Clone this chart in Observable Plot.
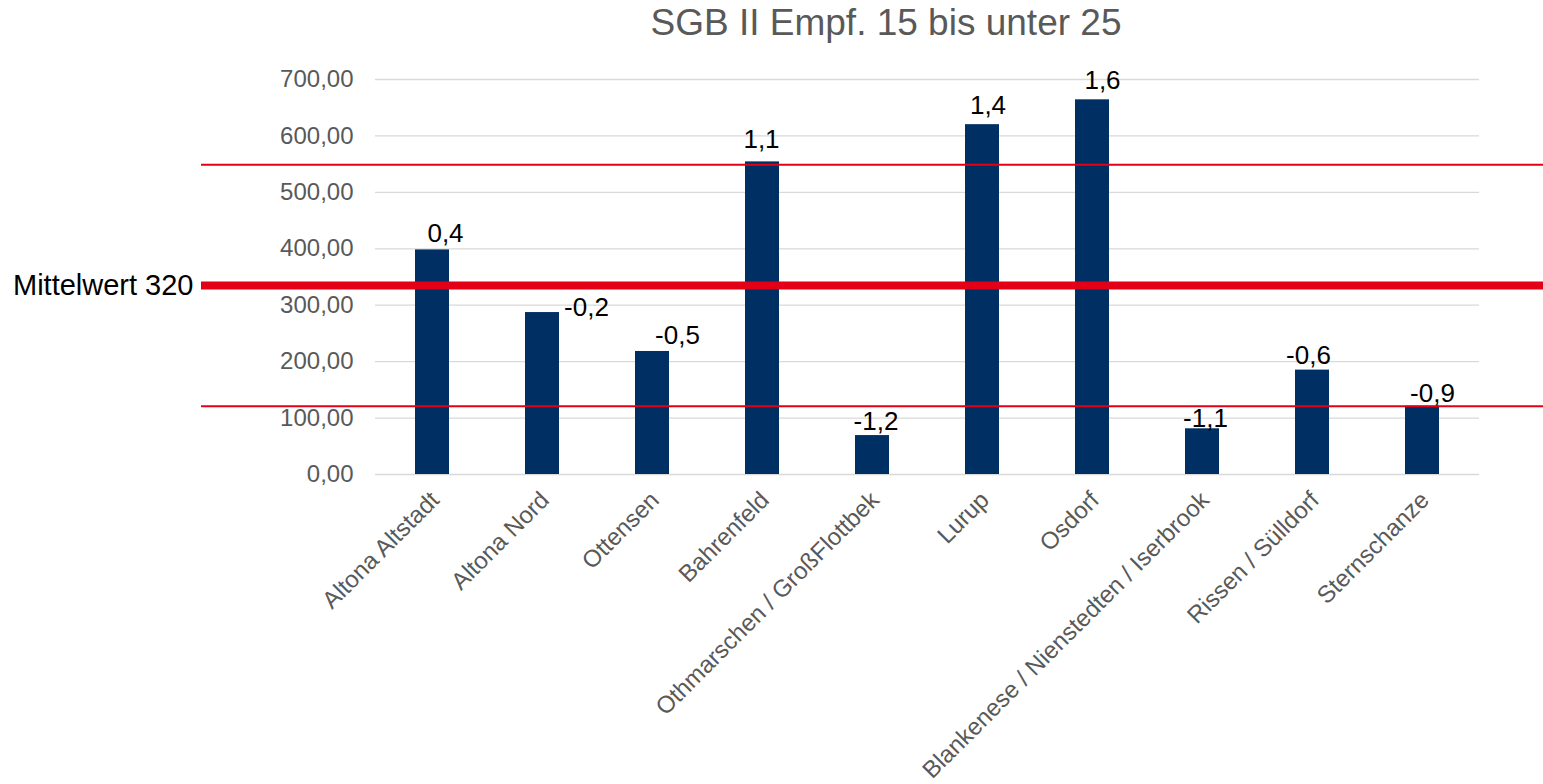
<!DOCTYPE html>
<html><head><meta charset="utf-8">
<script src="https://cdn.jsdelivr.net/npm/d3@7"></script>
<script src="https://cdn.jsdelivr.net/npm/@observablehq/plot@0.6"></script>
<style>
body{margin:0;background:#fff;font-family:"Liberation Sans",Arial,sans-serif;overflow:hidden}
#title{height:45px;line-height:45px;font-size:37px;color:#595959;text-align:center;padding-left:229px;width:1314px;white-space:nowrap}
</style></head><body>
<div id="title">SGB II Empf. 15 bis unter 25</div>
<div id="chart"></div>
<script>
const categories = ["Altona Altstadt", "Altona Nord", "Ottensen", "Bahrenfeld", "Othmarschen / GroßFlottbek", "Lurup", "Osdorf", "Blankenese / Nienstedten / Iserbrook", "Rissen / Sülldorf", "Sternschanze"];
const values = [398, 287, 218, 554, 69, 620, 664, 81, 185, 121];
const zScores = [0.4, -0.2, -0.5, 1.1, -1.2, 1.4, 1.6, -1.1, -0.6, -0.9];
const yTicks = [0, 100, 200, 300, 400, 500, 600, 700];
const meanLine = 335;
const meanLabel = "Mittelwert 320";
const bandLines = [549, 121];

const fmt2 = d => d.toFixed(2).replace(".", ",");
const fmt1 = d => d.toFixed(1).replace(".", ",");
const data = categories.map((c, i) => ({c, v: values[i], z: zScores[i]}));

// label nudges (dx, dy) relative to bar top centre
const nudge = {
  "Altona Altstadt": [13, -16.5],
  "Altona Nord": [44, -5],
  "Ottensen": [25, -16],
  "Bahrenfeld": [-1, -22],
  "Othmarschen / GroßFlottbek": [3.5, -13.5],
  "Lurup": [5.5, -19],
  "Osdorf": [10, -19.5],
  "Blankenese / Nienstedten / Iserbrook": [3, -10],
  "Rissen / Sülldorf": [-4, -14.7],
  "Sternschanze": [10, -12.5]
};

const red = "#e30016";
const chart = Plot.plot({
  width: 1543, height: 739,
  marginLeft: 375, marginRight: 64, marginTop: 34, marginBottom: 310,
  style: {fontFamily: '"Liberation Sans", Arial, sans-serif', fontSize: "24px", color: "#595959", background: "#fff", overflow: "visible"},
  x: {domain: categories, paddingInner: 0.69, paddingOuter: 0.345, axis: null},
  y: {domain: [0, 700], axis: null},
  marks: [
    Plot.gridY(yTicks, {stroke: "#d9d9d9", strokeOpacity: 1, strokeWidth: 1.3}),
    Plot.axisY(yTicks, {tickSize: 0, tickPadding: 22, tickFormat: fmt2, fill: "#595959", fontSize: 24, label: null}),
    Plot.barY(data, {x: "c", y: "v", fill: "#003063"}),
    Plot.ruleY(bandLines, {stroke: red, strokeWidth: 2, insetLeft: -174, insetRight: -64}),
    Plot.ruleY([meanLine], {stroke: red, strokeWidth: 8, insetLeft: -174, insetRight: -64}),
    Plot.text([{y: meanLine, label: meanLabel}], {y: "y", text: "label", frameAnchor: "left", textAnchor: "end", lineAnchor: "middle", dx: -182, fontSize: 29, fill: "#000"}),
    ...data.map(d => Plot.text([d], {x: "c", y: "v", text: e => fmt1(e.z), fontSize: 26, fill: "#000", lineAnchor: "middle", dx: nudge[d.c][0], dy: nudge[d.c][1]})),
    Plot.text(categories, {x: d => d, frameAnchor: "bottom", rotate: -45, textAnchor: "end", lineAnchor: "top", dx: -4, dy: 15, fontSize: 24, fill: "#595959"})
  ]
});
document.getElementById("chart").appendChild(chart);
</script>
</body></html>
